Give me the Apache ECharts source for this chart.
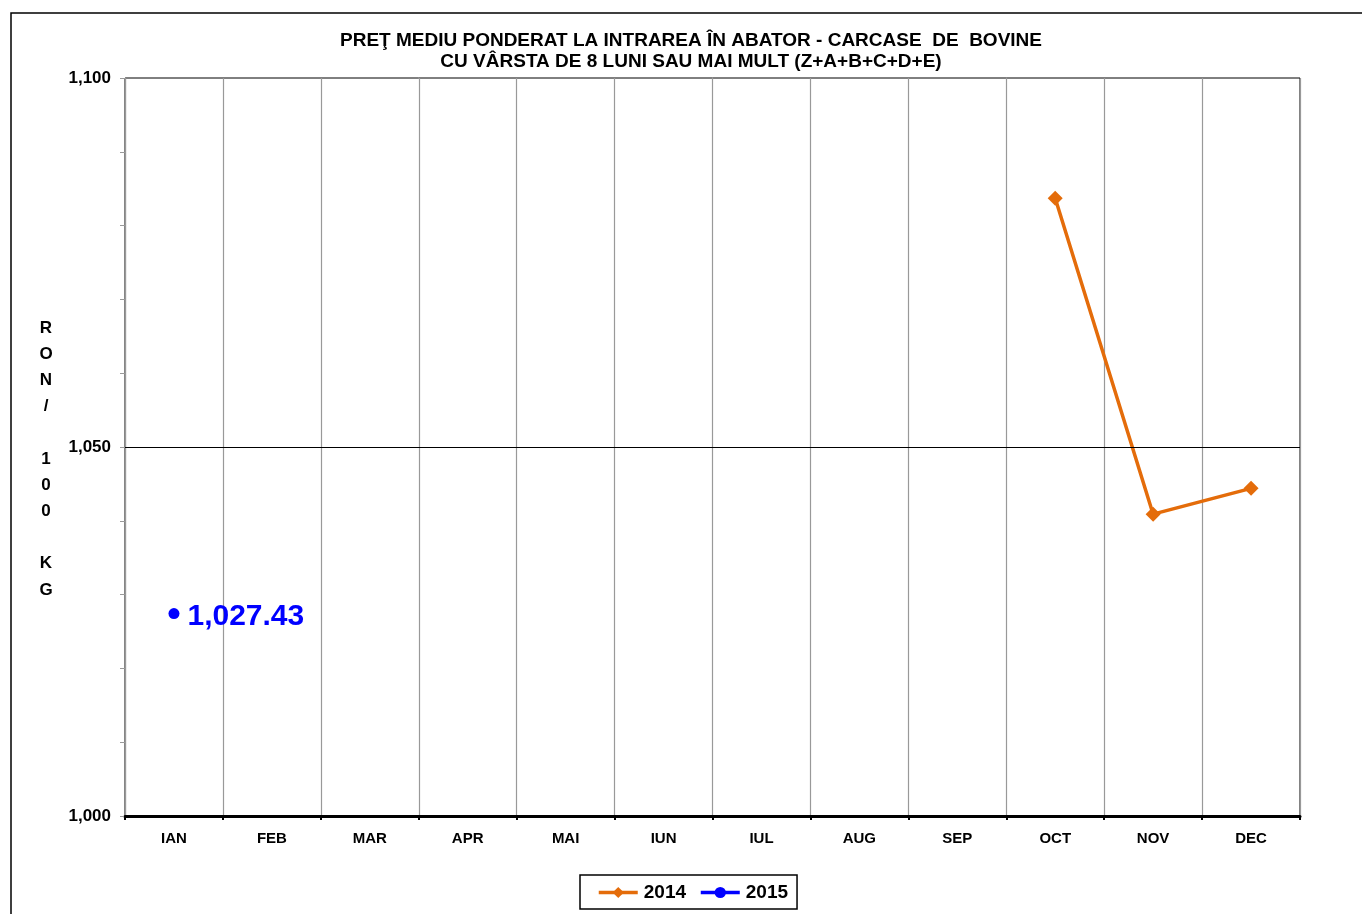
<!DOCTYPE html>
<html>
<head>
<meta charset="utf-8">
<script src="https://cdn.jsdelivr.net/npm/echarts@6/dist/echarts.min.js"></script>
<style>
html,body{margin:0;padding:0;background:#fff;}
#chart{width:1362px;height:914px;}
</style>
</head>
<body>
<div id="chart"></div>
<script>
const months = ['IAN','FEB','MAR','APR','MAI','IUN','IUL','AUG','SEP','OCT','NOV','DEC'];
const values2014 = [null,null,null,null,null,null,null,null,null,1083.7,1040.9,1044.4];
const values2015 = [1027.43,null,null,null,null,null,null,null,null,null,null,null];
const yMin = 1000, yMax = 1100, yStep = 10, yLabelStep = 50, refLine = 1050;
const titleLines = ['PREŢ MEDIU PONDERAT LA INTRAREA ÎN ABATOR - CARCASE  DE  BOVINE','CU VÂRSTA DE 8 LUNI SAU MAI MULT (Z+A+B+C+D+E)'];
const yName = 'R\nO\nN\n/\n\n1\n0\n0\n\nK\nG';

function fmt(v){
  return Number(v).toLocaleString('en-US',{minimumFractionDigits:0,maximumFractionDigits:2});
}
const FONT = 'Liberation Sans, Arial, sans-serif';
const chart = echarts.init(document.getElementById('chart'));
chart.setOption({
  animation:false,
  backgroundColor:'#fff',
  textStyle:{fontFamily:FONT},
  title:{
    text:titleLines.join('\n'),
    left:691, top:30, padding:0, textAlign:'center',
    textStyle:{fontSize:19,fontWeight:'bold',color:'#000',lineHeight:21,fontFamily:FONT}
  },
  graphic:[
    {type:'rect',shape:{x:11,y:13,width:1400,height:1000},style:{fill:'none',stroke:'#000',lineWidth:1.5},z:-1},
    {type:'text',x:46,y:459,style:{text:yName,font:'bold 17px '+FONT,fill:'#000',textAlign:'center',textVerticalAlign:'middle',lineHeight:26.2}}
  ],
  legend:{
    left:580, top:875,
    padding:[8,9,7,17],
    borderColor:'#000', borderWidth:1.5,
    itemWidth:39, itemHeight:14, itemGap:13,
    lineStyle:{width:3.5},
    textStyle:{fontSize:19,fontWeight:'bold',color:'#000',fontFamily:FONT,padding:[0,0,0,1]},
    data:['2014','2015']
  },
  grid:{left:125,right:62,top:78,bottom:98,show:true,borderColor:'#000',borderWidth:1},
  xAxis:{
    type:'category', data:months, boundaryGap:true,
    axisLine:{lineStyle:{color:'#000',width:3}},
    axisTick:{show:true,length:4,lineStyle:{color:'#000',width:2},interval:0},
    axisLabel:{fontSize:15,fontWeight:'bold',color:'#000',margin:15,interval:0,fontFamily:FONT},
    splitLine:{show:true,interval:0,lineStyle:{color:'#999',width:1.2}}
  },
  yAxis:{
    type:'value', min:yMin, max:yMax, interval:yStep,
    axisLine:{show:true,lineStyle:{color:'#999',width:1.2}},
    axisTick:{show:true,length:5,lineStyle:{color:'#999'}},
    axisLabel:{fontSize:17,fontWeight:'bold',color:'#000',margin:14,fontFamily:FONT,
      formatter:function(v){return (Math.round(v)%yLabelStep===0)?fmt(v):'';}},
    splitLine:{show:false}
  },
  series:[
    {
      name:'2014', type:'line', data:values2014,
      connectNulls:false,
      symbol:'diamond', symbolSize:15,
      itemStyle:{color:'#E46C0A'},
      lineStyle:{color:'#E46C0A',width:3.5},
      markLine:{silent:true,symbol:'none',label:{show:false},
        lineStyle:{color:'#000',width:1.2,type:'solid'},
        data:[{yAxis:refLine}]}
    },
    {
      name:'2015', type:'line', data:values2015,
      symbol:'circle', symbolSize:11,
      itemStyle:{color:'#0000FF'},
      lineStyle:{color:'#0000FF',width:3.5},
      label:{show:true,position:'right',distance:8,offset:[0,3],fontSize:30,fontWeight:'bold',color:'#0000FF',fontFamily:FONT,
        formatter:function(p){return fmt(p.value);}}
    }
  ]
});
</script>
</body>
</html>
